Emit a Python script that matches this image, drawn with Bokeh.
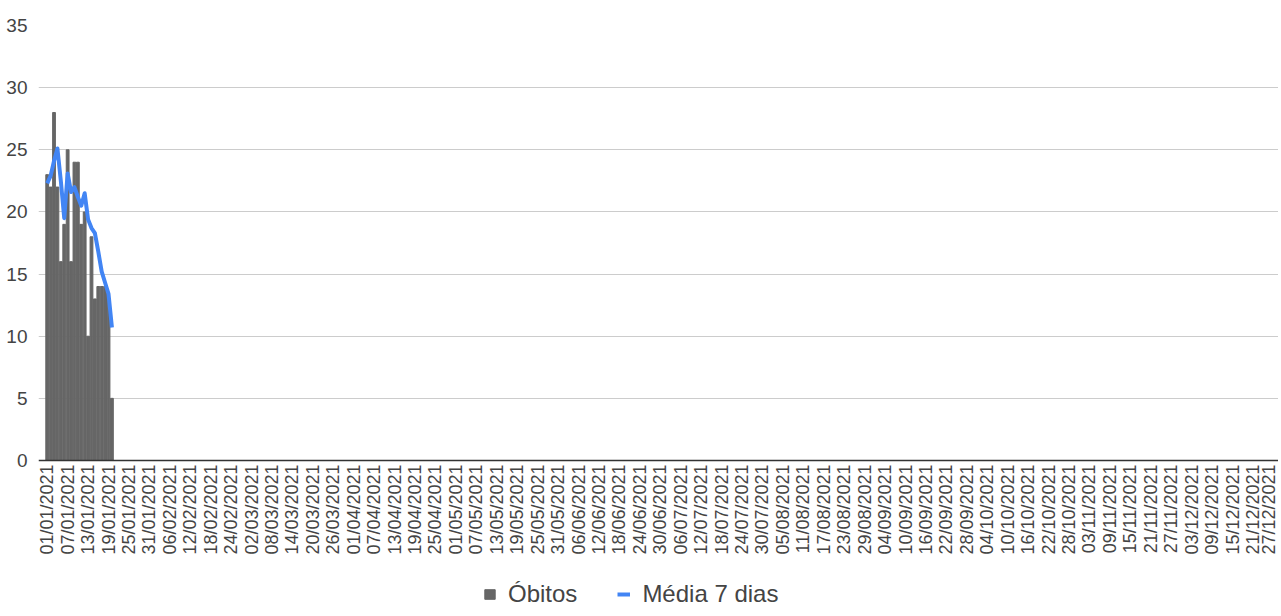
import math
import pandas as pd
from bokeh.plotting import figure
from bokeh.models import Legend, LegendItem, FixedTicker, Range1d, ColumnDataSource
from bokeh.embed import file_html
from bokeh.resources import INLINE

# ---- data ----
all_dates = [d.strftime("%d/%m/%Y") for d in pd.date_range("2021-01-01", "2021-12-28", freq="D")]
tick_step = 6
obitos_dates = all_dates[:20]
obitos = [23, 22, 28, 22, 16, 19, 25, 16, 24, 24, 19, 20, 10, 18, 13, 14, 14, 14, 13, 5]
media_7 = [22.3, 22.9, 24.1, 25.1, 22.5, 19.5, 23.1, 21.6, 22.0, 21.2,
           20.5, 21.5, 19.4, 18.7, 18.3, 16.8, 15.2, 14.3, 13.4, 10.7]
y_ticks = [0, 5, 10, 15, 20, 25, 30, 35]

FONT = "Liberation Sans"
TXT = "#444444"

# layout (pixels)
TOP, PLOT_H, FRAME_H = 25, 435, 591
PAD_L = 7
LEFT, DATA_W = 45 - PAD_L, 1233
FRAME_W = DATA_W + PAD_L
n_days = len(all_dates)
day_px = DATA_W / n_days
y_max = y_ticks[-1]
y_min = -(FRAME_H - PLOT_H) * y_max / PLOT_H

idx = [all_dates.index(d) for d in obitos_dates]
src = ColumnDataSource(dict(x=idx, obitos=obitos, media=media_7))

p = figure(frame_width=FRAME_W, frame_height=FRAME_H, output_backend="svg", toolbar_location=None,
           x_range=Range1d(-0.5 - PAD_L / day_px, n_days - 0.5), y_range=Range1d(y_min, y_max),
           min_border_left=LEFT, min_border_right=0, min_border_top=TOP, min_border_bottom=0)
p.outline_line_color = None
p.background_fill_color = "white"

bars = p.vbar(x="x", top="obitos", width=0.82, color="#666666", source=src)
line = p.line(x="x", y="media", line_color="#4285f4", line_width=4,
              line_join="round", source=src)

tick_pos = list(range(0, n_days, tick_step))
p.xaxis.fixed_location = 0
p.xaxis.ticker = FixedTicker(ticks=tick_pos)
p.xaxis.major_label_overrides = {i: all_dates[i] for i in tick_pos}
p.xaxis.major_label_orientation = math.pi / 2
p.xaxis.major_label_text_font = FONT
p.xaxis.major_label_text_font_size = "18px"
p.xaxis.major_label_text_color = TXT
p.xaxis.major_label_standoff = 4
p.xaxis.major_tick_line_color = None
p.xaxis.minor_tick_line_color = None
p.xaxis.major_tick_out = 0
p.xaxis.minor_tick_out = 0
p.xaxis.axis_line_color = "#333333"
p.xaxis.axis_line_width = 1.3

p.yaxis.ticker = FixedTicker(ticks=y_ticks)
p.yaxis.major_label_text_font = FONT
p.yaxis.major_label_text_font_size = "19px"
p.yaxis.major_label_text_color = TXT
p.yaxis.major_label_standoff = 12 - PAD_L
p.yaxis.axis_line_color = None
p.yaxis.major_tick_line_color = None
p.yaxis.minor_tick_line_color = None

p.xgrid.grid_line_color = None
p.ygrid.grid_line_color = "#cccccc"
p.ygrid.ticker = FixedTicker(ticks=y_ticks[1:])

legend = Legend(items=[LegendItem(label="Óbitos", renderers=[bars]),
                       LegendItem(label="Média 7 dias", renderers=[line])],
                orientation="horizontal", location=(438 + PAD_L, 8),
                label_text_font=FONT, label_text_font_size="24px", label_text_color=TXT,
                glyph_width=13, glyph_height=12, label_standoff=12, spacing=40,
                label_height=24,
                border_line_color=None, background_fill_alpha=0, padding=0, margin=0)
p.add_layout(legend, "center")

open("out.html", "w").write(file_html(p, INLINE))
